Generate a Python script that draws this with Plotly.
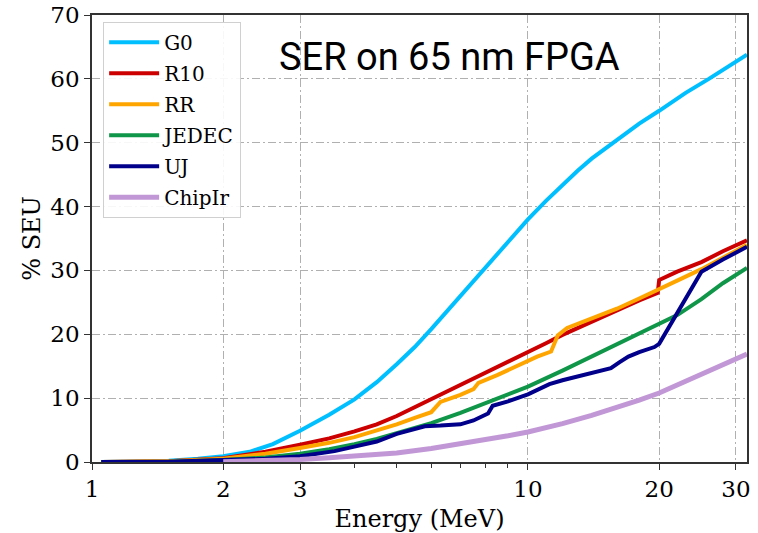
import plotly.graph_objects as go

# ---- data ----
g0_e = [1.05, 1.3, 1.5, 1.75, 2.0, 2.3, 2.6, 3.0, 3.5, 4.0, 4.5, 5.0, 5.5, 6.0, 7.0, 8.0, 9.0, 10, 11, 12, 13, 14, 16, 18, 20, 23, 26, 29, 31.8]
g0_v = [0, 0.05, 0.2, 0.5, 0.9, 1.6, 2.8, 4.9, 7.4, 9.8, 12.5, 15.3, 18.0, 20.8, 26.0, 30.6, 34.6, 38.0, 40.9, 43.4, 45.6, 47.5, 50.5, 53.0, 55.0, 57.8, 60.0, 62.0, 63.8]

r10_e = [1.05, 1.5, 2.0, 2.5, 3.0, 3.5, 4.0, 4.5, 5.0, 6.0, 7.0, 8.0, 9.0, 10, 11, 12, 14, 16, 18, 19.85, 20.0, 22, 25, 28, 31.8]
r10_v = [0, 0.1, 0.6, 1.6, 2.7, 3.7, 4.8, 5.9, 7.2, 9.8, 12.0, 14.0, 15.6, 17.1, 18.6, 19.9, 22.0, 23.8, 25.3, 26.5, 28.5, 29.8, 31.3, 33.0, 34.7]

rr_e = [1.05, 1.5, 2.0, 2.5, 3.0, 3.5, 4.0, 4.5, 5.0, 5.5, 6.0, 6.3, 7.0, 7.5, 7.7, 8.5, 9.5, 10.5, 11.3, 11.7, 12.3, 13, 14, 16, 18, 20, 22, 25, 28, 31.8]
rr_v = [0, 0.1, 0.5, 1.3, 2.2, 3.0, 3.9, 4.9, 5.9, 6.9, 7.8, 9.4, 10.5, 11.4, 12.4, 13.6, 15.2, 16.5, 17.3, 19.8, 21.0, 21.6, 22.4, 24.0, 25.6, 27.0, 28.4, 30.2, 32.0, 34.0]

jedec_e = [1.05, 1.5, 2, 2.5, 3, 3.5, 4, 4.5, 5, 6, 7, 8, 9, 10, 12, 14, 16, 18, 20, 22, 25, 28, 31.8]
jedec_v = [0, 0.05, 0.3, 0.7, 1.3, 2.0, 2.8, 3.6, 4.5, 6.1, 7.7, 9.2, 10.5, 11.8, 14.3, 16.5, 18.4, 20.0, 21.5, 23.0, 25.5, 28.0, 30.4]

uj_e = [1.05, 1.5, 2, 2.5, 3, 3.3, 3.6, 4.0, 4.5, 5.0, 5.5, 5.8, 6.3, 7.0, 7.5, 8.1, 8.3, 9.0, 10, 10.5, 11.2, 12, 13, 14, 15.5, 16.2, 17, 18, 19.5, 20, 25, 28, 31.8]
uj_v = [0, 0.05, 0.3, 0.5, 0.9, 1.3, 1.7, 2.4, 3.2, 4.4, 5.2, 5.6, 5.7, 5.9, 6.5, 7.6, 8.8, 9.5, 10.6, 11.3, 12.2, 12.8, 13.4, 14.0, 14.7, 15.6, 16.5, 17.2, 18.0, 18.5, 29.8, 31.7, 33.7]

chip_e = [2, 2.5, 3, 3.5, 4, 5, 6, 7, 8, 9, 10, 12, 14, 16, 18, 20, 23, 26, 29, 31.8]
chip_v = [0.05, 0.2, 0.4, 0.65, 0.9, 1.4, 2.1, 2.8, 3.5, 4.1, 4.7, 6.0, 7.3, 8.5, 9.7, 10.8, 12.6, 14.2, 15.7, 16.9]

x_ticks = [1, 2, 3, 10, 20, 30]
x_minor = [4, 5, 6, 7, 8, 9]
y_ticks = [0, 10, 20, 30, 40, 50, 60, 70]

series = [
    ("G0", g0_e, g0_v, "#00BFFF", 4),
    ("R10", r10_e, r10_v, "#CC0000", 4),
    ("RR", rr_e, rr_v, "#FFA500", 4),
    ("JEDEC", jedec_e, jedec_v, "#109648", 4),
    ("UJ", uj_e, uj_v, "#00008B", 4),
    ("ChipIr", chip_e, chip_v, "#C297D6", 5),
]

SERIF = "DejaVu Serif"
fig = go.Figure()
for name, e, v, c, w in series:
    fig.add_trace(go.Scatter(x=e, y=v, mode="lines", name=name, legendgroup=name,
                             line=dict(color=c, width=w)))

grid = dict(showgrid=True, gridcolor="#b0b0b0", gridwidth=1, griddash="8px,3px,2px,3px")
fig.update_layout(
    width=758, height=533,
    margin=dict(l=92, r=11, t=15, b=71),
    paper_bgcolor="white", plot_bgcolor="white",
    font=dict(family=SERIF, color="black"),
    xaxis=dict(type="log", range=[0, 1.5025], tickvals=x_ticks, ticktext=[str(t) for t in x_ticks],
               ticks="outside", ticklen=6, tickwidth=1.2, tickcolor="#333",
               showline=True, linecolor="#333", linewidth=1.5, mirror=True,
               tickfont=dict(size=23, family=SERIF), automargin=False,
               title=dict(text="Energy (MeV)", font=dict(size=24, family=SERIF), standoff=10),
               minor=dict(tickvals=x_minor, ticks="outside", ticklen=4, tickcolor="#333", showgrid=False),
               zeroline=False, **grid),
    yaxis=dict(range=[0, 70], tickvals=y_ticks,
               ticks="outside", ticklen=6, tickwidth=1.2, tickcolor="#333",
               showline=True, linecolor="#333", linewidth=1.5, mirror=True,
               tickfont=dict(size=23, family=SERIF), automargin=False,
               title=dict(text="% SEU", font=dict(size=24, family=SERIF), standoff=3),
               zeroline=False, **grid),
    legend=dict(x=0.017, y=0.985, xanchor="left", yanchor="top",
                bgcolor="rgba(255,255,255,0.9)", bordercolor="#d0d0d0", borderwidth=1,
                font=dict(size=20, family=SERIF), tracegroupgap=2, itemwidth=50,
                traceorder="grouped"),
    showlegend=True,
)
fig.add_annotation(text="SER on 65 nm FPGA", xref="paper", yref="paper",
                   x=(449 - 92) / 655, y=(462 - 57) / 447, xanchor="center", yanchor="middle",
                   showarrow=False, font=dict(family="Roboto", size=38, color="black"))

fig.write_html("out.html")
